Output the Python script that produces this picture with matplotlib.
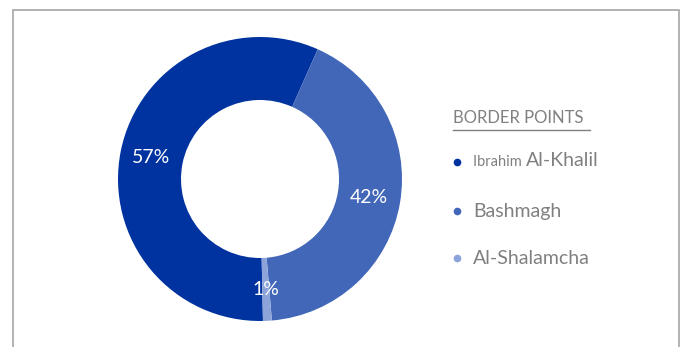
import matplotlib.pyplot as plt
from matplotlib.patches import Rectangle

# share of crossings by border point
points = ['Ibrahim Al-Khalil', 'Bashmagh', 'Al-Shalamcha']
shares = [57, 42, 1]
colors = ['#0033a0', '#4267b8', '#8da4da']

plt.rcParams['font.family'] = ['Lato', 'DejaVu Sans']

fig = plt.figure(figsize=(6.84, 3.47), dpi=100)
ax = fig.add_axes([0, 0, 1, 1])

# panel border
ax.add_patch(Rectangle((13, -5), 666, 342, fill=False, edgecolor='#a6a6a6', linewidth=1.2))

wedges, texts, pcts = ax.pie(
    shares, colors=colors, center=(260, 168), radius=142,
    startangle=-88.8, counterclock=False,
    wedgeprops=dict(width=63, edgecolor='none'),
    autopct='%.0f%%', pctdistance=0.78,
    textprops=dict(color='white', fontsize=14),
    frame=True,
)
ax.set_xlim(0, 684)
ax.set_ylim(0, 347)
ax.axis('off')

# legend
gray = '#808080'
ax.text(453, 347 - 123, 'BORDER POINTS', color=gray, fontsize=12)
ax.plot([453, 590], [347 - 130, 347 - 130], color=gray, linewidth=1)

ys = [162, 211, 258]
for i, (name, c, y) in enumerate(zip(points, colors, ys)):
    ax.plot(457, 347 - y, 'o', color=c, markersize=4.5)
    if i == 0:
        t = ax.text(473, 347 - y, 'Ibrahim ', color=gray, fontsize=10.5, va='center')
        ax.annotate('Al-Khalil', xycoords=t, xy=(1, 0), va='bottom',
                    color=gray, fontsize=14)
    else:
        ax.text(473, 347 - y, name, color=gray, fontsize=14, va='center')

fig.savefig('out.png', dpi=100)
